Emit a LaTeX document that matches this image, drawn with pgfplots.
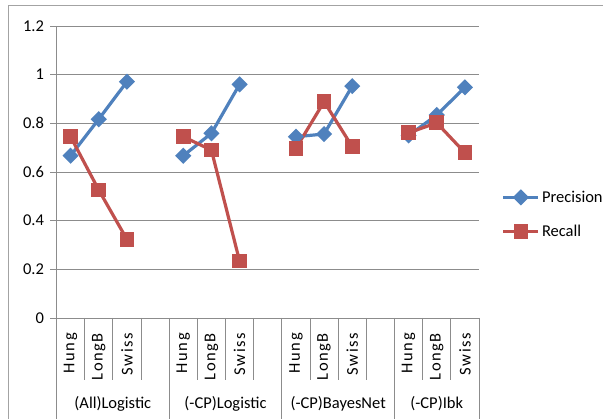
\documentclass[border=0pt]{standalone}
\usepackage{fontspec}
\setmainfont{Carlito}
\usepackage{pgfplots}
\pgfplotsset{compat=1.18}
\definecolor{prec}{HTML}{4F81BD}
\definecolor{rec}{HTML}{C0504D}
\definecolor{gridc}{HTML}{8C8C8C}
\newcommand\cf{\fontsize{16.5}{19}\selectfont}
\newfontfamily\spaced[LetterSpace=9]{Carlito}
\begin{document}
\begin{tikzpicture}
\useasboundingbox (-56.5pt,-101pt) rectangle (546.5pt,318pt);
\draw[color=gridc!80, line width=1pt] (-47.5pt,-130pt) -- (-47.5pt,312pt) -- (620pt,312pt);
\begin{axis}[
 scale only axis, width=422.5pt, height=292pt,
 xmin=-0.5, xmax=14.5, ymin=0, ymax=1.2,
 axis x line*=bottom, axis y line*=left,
 axis line style={gridc, line width=0.9pt},
 ytick={0,0.2,0.4,0.6,0.8,1,1.2},
 ymajorgrids, grid style={gridc, line width=0.9pt},
 tick style={gridc, line width=0.9pt},
 tick align=outside, major tick length=6pt,
 xtick={0,1,2,4,5,6,8,9,10,12,13,14},
 xticklabels={Hung,LongB,Swiss,Hung,LongB,Swiss,Hung,LongB,Swiss,Hung,LongB,Swiss},
 xtick style={draw=none},
 xticklabel style={rotate=90, anchor=east, font=\spaced\cf, inner xsep=9pt},
 yticklabel style={font=\cf, xshift=-3pt},
 /pgf/number format/assume math mode=true,
 clip=false,
 unbounded coords=jump,
 legend image code/.code={\draw[#1, mark repeat=2, mark phase=2] plot coordinates {(0pt,0pt) (17.5pt,0pt) (35pt,0pt)};},
 legend style={draw=none, fill=none, at={(1.0535,0.355)}, anchor=west, font=\cf, row sep=17pt, inner sep=0pt},
 legend cell align=left,
]
\addplot[prec, line width=3.2pt, mark=square*, mark size=4.1pt, mark options={rotate=45, solid}]
 coordinates {(0,0.667) (1,0.817) (2,0.971) (3,nan) (4,0.667) (5,0.759) (6,0.960) (7,nan) (8,0.745) (9,0.756) (10,0.953) (11,nan) (12,0.750) (13,0.834) (14,0.948)};
\addlegendentry{Precision}
\addplot[rec, line width=3.2pt, mark=square*, mark size=5.8pt, mark options={solid}]
 coordinates {(0,0.745) (1,0.526) (2,0.323) (3,nan) (4,0.745) (5,0.690) (6,0.234) (7,nan) (8,0.697) (9,0.889) (10,0.704) (11,nan) (12,0.761) (13,0.802) (14,0.679)};
\addlegendentry{Recall}
\pgfplotsinvokeforeach{0.5,1.5,2.5,4.5,5.5,6.5,8.5,9.5,10.5,12.5,13.5}{
 \draw[gridc, line width=0.9pt] (axis cs:#1,0) -- ++(0pt,-62pt);
}
\pgfplotsinvokeforeach{-0.5,3.5,7.5,11.5,14.5}{
 \draw[gridc, line width=0.9pt] (axis cs:#1,0) -- ++(0pt,-115pt);
}
\node[font=\cf] at ([yshift=-86pt]axis cs:1.5,0) {(All)Logistic};
\node[font=\cf] at ([yshift=-86pt]axis cs:5.5,0) {(-CP)Logistic};
\node[font=\cf] at ([yshift=-86pt]axis cs:9.5,0) {(-CP)BayesNet};
\node[font=\cf] at ([yshift=-86pt]axis cs:13,0) {(-CP)Ibk};
\end{axis}
\end{tikzpicture}
\end{document}
